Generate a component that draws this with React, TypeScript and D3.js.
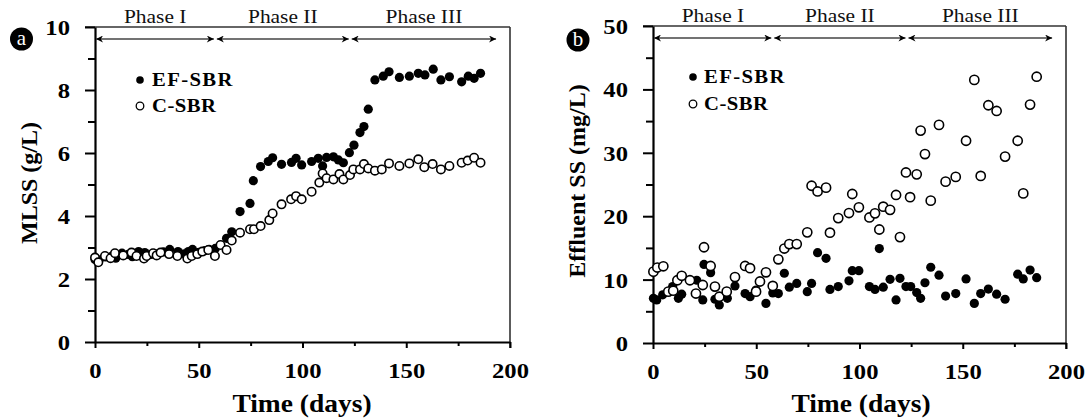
import React, { useEffect, useRef } from 'react';
import * as d3 from 'd3';

type Pt = [number, number];

// MLSS (g/L) over time, panel a
const mlssEF: Pt[] = [
  [0, 2.62], [2, 2.6], [5, 2.7], [8, 2.72], [10, 2.66], [13, 2.82], [16, 2.78], [18, 2.71], [21, 2.87], [24, 2.84],
  [27, 2.78], [30, 2.8], [33, 2.86], [36, 2.94], [40, 2.87], [43, 2.8], [45, 2.87], [47, 2.94], [50, 2.85], [53, 2.9],
  [55, 2.94], [58, 2.97], [63.4, 3.29], [65.9, 3.5], [69.9, 4.14], [74.7, 4.4], [76.3, 5.12], [79.8, 5.57], [83.5, 5.73],
  [85.6, 5.85], [89.9, 5.64], [94.7, 5.7], [96.9, 5.83], [99.6, 5.62], [104.4, 5.73], [107.6, 5.83], [109.7, 5.59],
  [111.6, 5.86], [114.9, 5.88], [117.3, 5.78], [119.7, 5.69], [122.6, 6.01], [124.8, 6.25], [127.7, 6.65], [129.6, 6.84],
  [131.7, 7.39], [134.9, 8.32], [138.9, 8.44], [141.7, 8.58], [146.7, 8.4], [151.5, 8.44], [155.8, 8.53], [159, 8.48],
  [163, 8.66], [166.7, 8.32], [170.8, 8.42], [176.7, 8.26], [179.9, 8.44], [182.7, 8.37], [185.8, 8.53],
];
const mlssC: Pt[] = [
  [0, 2.68], [1.6, 2.53], [4.8, 2.73], [7.5, 2.66], [9.6, 2.82], [13.6, 2.75], [17.6, 2.84], [20, 2.73], [23.6, 2.65],
  [24.9, 2.73], [28, 2.82], [29.7, 2.75], [31.6, 2.84], [35.7, 2.79], [39.7, 2.73], [44.5, 2.65], [46.6, 2.73], [49.3, 2.79],
  [51.7, 2.87], [54.6, 2.92], [57.8, 2.73], [60.5, 3.08], [63.4, 2.92], [65.9, 3.22], [69.9, 3.47], [74.7, 3.58], [76.6, 3.58],
  [79.8, 3.68], [84, 3.87], [85.6, 4.08], [89.9, 4.37], [94.5, 4.53], [96.9, 4.63], [99.6, 4.53], [104.4, 4.77], [108.1, 5.06],
  [109.7, 5.35], [111.6, 5.2], [114.9, 5.16], [117.8, 5.33], [119.7, 5.16], [122.9, 5.3], [124.5, 5.48], [127.7, 5.48],
  [129.6, 5.65], [131.7, 5.51], [134.9, 5.44], [138.2, 5.48], [141.7, 5.67], [146.7, 5.59], [151.5, 5.67], [155.8, 5.8],
  [158.7, 5.55], [162.7, 5.65], [166.7, 5.48], [170.8, 5.59], [176.7, 5.69], [179.6, 5.76], [182.7, 5.85], [185.8, 5.69],
];

// Effluent SS (mg/L) over time, panel b
const ssEF: Pt[] = [
  [0.2, 7.05], [1.8, 6.8], [4.7, 7.6], [9.5, 8.9], [12.3, 7.05], [13.9, 7.7], [21.2, 9.9], [24.1, 6.8], [24.7, 12.4],
  [27.9, 11.1], [30, 6.9], [32.1, 6.0], [36, 7.05], [39.7, 9.0], [44.6, 7.8], [47, 7.3], [49.9, 8.35], [54.7, 6.25],
  [58, 7.9], [60.7, 7.8], [63.6, 11.0], [66, 8.8], [69.6, 9.4], [74.7, 8.1], [76.8, 9.4], [79.7, 14.25], [83.8, 13.35],
  [85.7, 8.45], [89.7, 8.9], [94.9, 9.8], [96.5, 11.4], [99.7, 11.4], [104.8, 8.9], [107.5, 8.45], [109.6, 14.9],
  [111.5, 8.8], [114.8, 10.05], [117.7, 6.8], [119.6, 10.2], [122.5, 8.9], [124.8, 8.9], [127.7, 7.95], [129.6, 7.05],
  [131.7, 9.5], [134.5, 11.95], [138.5, 10.7], [141.7, 7.4], [146.6, 7.8], [151.6, 10.1], [155.6, 6.25], [158.7, 7.8],
  [162.4, 8.5], [166.4, 7.7], [170.5, 6.9], [176.6, 10.85], [179.3, 10.1], [182.6, 11.5], [185.8, 10.3],
];
const ssC: Pt[] = [
  [0.2, 11.25], [2.1, 11.9], [5, 12.1], [7.4, 8.1], [9.8, 8.25], [11.8, 9.9], [13.9, 10.6], [17.9, 9.9], [20.8, 7.8],
  [24.1, 9.15], [24.7, 15.1], [27.9, 12.15], [30, 8.9], [32.1, 7.3], [35.7, 8.1], [39.7, 10.4], [44.6, 12.15], [47, 11.8],
  [49.9, 8.1], [51.8, 9.7], [54.7, 11.15], [58, 9], [60.7, 13.2], [63.6, 14.9], [66, 15.6], [69.6, 15.6], [74.7, 17.45],
  [76.8, 24.8], [79.7, 23.9], [83.8, 24.5], [85.7, 17.4], [89.7, 19.7], [94.9, 20.5], [96.5, 23.5], [99.7, 21.4],
  [104.8, 19.8], [107.5, 20.45], [109.6, 17.9], [111.5, 21.5], [114.8, 21], [117.7, 23.35], [119.6, 16.7], [122.5, 26.9],
  [124.5, 23], [127.7, 26.6], [129.6, 33.5], [131.7, 29.8], [134.5, 22.45], [138.5, 34.4], [141.7, 25.45], [146.6, 26.2],
  [151.6, 31.9], [155.6, 41.5], [158.7, 26.35], [162.4, 37.5], [166.4, 36.6], [170.5, 29.4], [176.6, 31.9], [179.3, 23.6],
  [182.6, 37.6], [185.8, 42],
];

const phaseNames = ['Phase I', 'Phase II', 'Phase III'];
const phaseBounds = [0, 58, 123, 194];
const xTicks = [0, 50, 100, 150, 200];
const xMinor = [25, 75, 125, 175];
const seriesNames = ['EF-SBR', 'C-SBR'];

const SERIF = '"Liberation Serif", "Times New Roman", serif';

interface PanelCfg {
  left: number; right: number; top: number; bottom: number;
  yMax: number; yTicks: number[]; yMinor: number[];
  ef: Pt[]; c: Pt[];
  badge: [number, number]; letter: string;
  yTitle: string; yTitlePos: [number, number]; xTitleX: number;
  legX: number; legY: [number, number]; legTextX: number;
  openR: number;
}

const panels: PanelCfg[] = [
  {
    left: 95, right: 510, top: 27, bottom: 342, yMax: 10,
    yTicks: [0, 2, 4, 6, 8, 10], yMinor: [1, 3, 5, 7, 9],
    ef: mlssEF, c: mlssC, badge: [21.5, 39], letter: 'a',
    yTitle: 'MLSS (g/L)', yTitlePos: [37, 183], xTitleX: 302,
    legX: 140, legY: [80, 106], legTextX: 152, openR: 4.2,
  },
  {
    left: 653, right: 1066, top: 26, bottom: 343, yMax: 50,
    yTicks: [0, 10, 20, 30, 40, 50], yMinor: [5, 15, 25, 35, 45],
    ef: ssEF, c: ssC, badge: [578, 40], letter: 'b',
    yTitle: 'Effluent SS (mg/L)', yTitlePos: [585, 181], xTitleX: 861,
    legX: 693, legY: [77, 104], legTextX: 704, openR: 4.6,
  },
];

const App: React.FC = () => {
  const svgRef = useRef<SVGSVGElement>(null);

  useEffect(() => {
    if (!svgRef.current) return;
    const svg = d3.select(svgRef.current);
    svg.selectAll('*').remove();

    const defs = svg.append('defs');
    defs.append('marker')
      .attr('id', 'arr')
      .attr('viewBox', '0 0 10 10')
      .attr('refX', 10).attr('refY', 5)
      .attr('markerWidth', 10).attr('markerHeight', 7)
      .attr('markerUnits', 'userSpaceOnUse')
      .attr('orient', 'auto-start-reverse')
      .append('path')
      .attr('d', 'M0,0L10,5L0,10L3,5Z')
      .attr('fill', '#000');

    panels.forEach((p) => {
      const g = svg.append('g');
      const x = d3.scaleLinear().domain([0, 200]).range([p.left, p.right]);
      const y = d3.scaleLinear().domain([0, p.yMax]).range([p.bottom, p.top]);

      // frame (top + right)
      g.append('line').attr('x1', p.left - 10).attr('x2', p.right).attr('y1', p.top).attr('y2', p.top)
        .attr('stroke', '#333').attr('stroke-width', 1.6);
      g.append('line').attr('x1', p.right).attr('x2', p.right).attr('y1', p.top).attr('y2', p.bottom + 6)
        .attr('stroke', '#333').attr('stroke-width', 1.6);

      // y axis
      const ya = g.append('g').attr('transform', `translate(${p.left},0)`)
        .call(d3.axisLeft(y).tickValues(p.yTicks).tickSize(10).tickSizeOuter(0).tickPadding(15));
      g.append('g').attr('transform', `translate(${p.left},0)`)
        .call(d3.axisLeft(y).tickValues(p.yMinor).tickSize(7).tickFormat(() => ''))
        .select('.domain').remove();
      ya.selectAll('.tick text')
        .attr('x', null)
        .attr('dy', null)
        .attr('transform', 'translate(-25,7.5) scale(1.12,1)');

      // x axis
      const xa = g.append('g').attr('transform', `translate(0,${p.bottom})`)
        .call(d3.axisBottom(x).tickValues(xTicks).tickSize(6).tickSizeOuter(0).tickPadding(14));
      g.append('g').attr('transform', `translate(0,${p.bottom})`)
        .call(d3.axisBottom(x).tickValues(xMinor).tickSize(4).tickFormat(() => ''))
        .select('.domain').remove();
      xa.selectAll('.tick text')
        .attr('y', null)
        .attr('dy', null)
        .attr('transform', 'translate(0,36) scale(1.12,1)');

      [ya, xa].forEach((a) => {
        a.selectAll('text')
          .attr('font-family', SERIF).attr('font-weight', 'bold').attr('font-size', 22)
          .attr('fill', '#000');
      });
      g.selectAll('.domain').attr('stroke', '#000').attr('stroke-width', 2.2);
      g.selectAll('.tick line').attr('stroke', '#000').attr('stroke-width', 2);

      // phase arrows
      phaseNames.forEach((name, i) => {
        const x0 = x(phaseBounds[i]) + (i === 0 ? 1 : 1.5);
        const x1 = x(phaseBounds[i + 1]) - 1.5;
        g.append('line')
          .attr('x1', x0).attr('x2', x1).attr('y1', p.top + 12).attr('y2', p.top + 12)
          .attr('stroke', '#444').attr('stroke-width', 1.5)
          .attr('marker-start', 'url(#arr)').attr('marker-end', 'url(#arr)');
        const cx = (x(phaseBounds[i]) + x(phaseBounds[i + 1])) / 2;
        g.append('text')
          .attr('transform', `translate(${cx},${p.top - 4}) scale(1.1,1)`)
          .attr('text-anchor', 'middle')
          .attr('font-family', SERIF).attr('font-size', 19.5).attr('fill', '#111')
          .text(name);
      });

      // data
      g.append('g').selectAll('circle').data(p.ef).join('circle')
        .attr('cx', (d) => x(d[0])).attr('cy', (d) => y(d[1]))
        .attr('r', 4.6).attr('fill', '#000');
      g.append('g').selectAll('circle').data(p.c).join('circle')
        .attr('cx', (d) => x(d[0])).attr('cy', (d) => y(d[1]))
        .attr('r', p.openR).attr('fill', '#fff').attr('stroke', '#000').attr('stroke-width', 1.6);

      // legend
      seriesNames.forEach((name, i) => {
        const ly = p.legY[i];
        g.append('circle').attr('cx', p.legX).attr('cy', ly).attr('r', 3.8)
          .attr('fill', i === 0 ? '#000' : '#fff').attr('stroke', '#000').attr('stroke-width', i === 0 ? 0 : 1.3);
        g.append('text')
          .attr('transform', `translate(${p.legTextX},${ly + 6}) scale(1.12,1)`)
          .attr('font-family', SERIF).attr('font-weight', 'bold').attr('font-size', 18.5)
          .attr('letter-spacing', i === 0 ? 1.2 : 0.4)
          .attr('fill', '#000').text(name);
      });

      // badge
      g.append('circle').attr('cx', p.badge[0]).attr('cy', p.badge[1]).attr('r', 11.5).attr('fill', '#000');
      g.append('text').attr('x', p.badge[0]).attr('y', p.badge[1] + 6)
        .attr('text-anchor', 'middle').attr('font-family', SERIF).attr('font-size', 21).attr('fill', '#fff')
        .text(p.letter);

      // axis titles
      g.append('text')
        .attr('transform', `translate(${p.xTitleX},412) scale(1.1,1)`)
        .attr('text-anchor', 'middle').attr('font-family', SERIF).attr('font-weight', 'bold').attr('font-size', 25)
        .attr('fill', '#000').text('Time (days)');
      g.append('text')
        .attr('transform', `translate(${p.yTitlePos[0]},${p.yTitlePos[1]}) rotate(-90)`)
        .attr('text-anchor', 'middle').attr('font-family', SERIF).attr('font-weight', 'bold').attr('font-size', 24)
        .attr('fill', '#000').text(p.yTitle);
    });
  }, []);

  return (
    <div style={{ position: 'absolute', left: 0, top: 0, width: 1088, height: 420, background: '#fff' }}>
      <svg ref={svgRef} width={1088} height={420} style={{ display: 'block' }} />
    </div>
  );
};

export default App;
